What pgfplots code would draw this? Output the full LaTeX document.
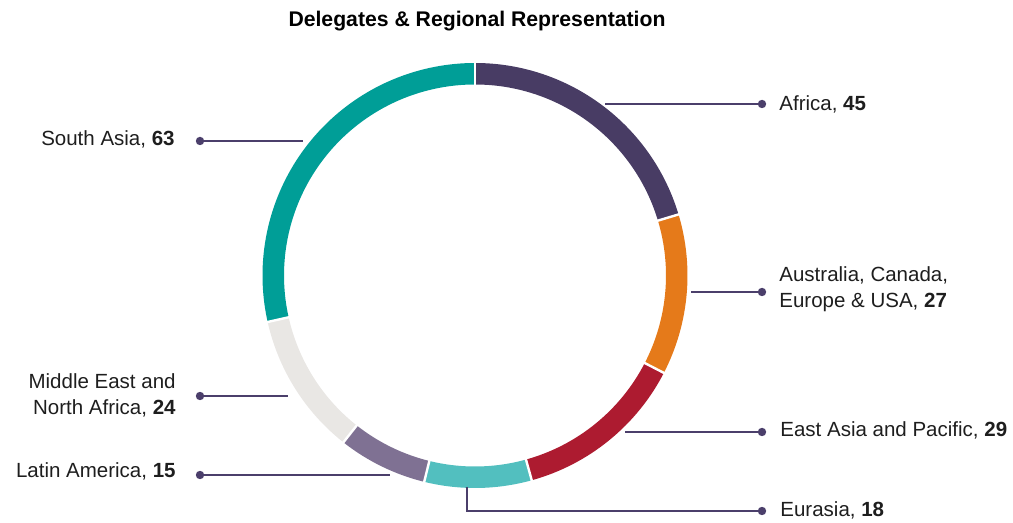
\documentclass[border=0pt]{standalone}
\usepackage{pgfplots}
\pgfplotsset{compat=1.18}
\usepackage{fontspec}
\setmainfont{Liberation Sans}
\definecolor{cAfr}{HTML}{483C64}
\definecolor{cAus}{HTML}{E57A1A}
\definecolor{cEas}{HTML}{AD1B30}
\definecolor{cEur}{HTML}{52BFBF}
\definecolor{cLat}{HTML}{7F7193}
\definecolor{cMid}{HTML}{E9E7E4}
\definecolor{cSou}{HTML}{009E97}
\definecolor{leadc}{HTML}{4B3F6B}
\definecolor{textc}{HTML}{1E1E1E}
% data (delegates per region)
\pgfmathsetmacro\vA{45}% Africa
\pgfmathsetmacro\vB{27}% Australia, Canada, Europe & USA
\pgfmathsetmacro\vC{29}% East Asia and Pacific
\pgfmathsetmacro\vD{18}% Eurasia
\pgfmathsetmacro\vE{15}% Latin America
\pgfmathsetmacro\vF{24}% Middle East and North Africa
\pgfmathsetmacro\vG{63}% South Asia
\pgfmathsetmacro\tot{\vA+\vB+\vC+\vD+\vE+\vF+\vG}
\pgfmathsetmacro\aA{90}
\pgfmathsetmacro\aB{\aA-\vA/\tot*360}
\pgfmathsetmacro\aC{\aB-\vB/\tot*360}
\pgfmathsetmacro\aD{\aC-\vC/\tot*360}
\pgfmathsetmacro\aE{\aD-\vD/\tot*360}
\pgfmathsetmacro\aF{\aE-\vE/\tot*360}
\pgfmathsetmacro\aG{\aF-\vF/\tot*360}
\pgfmathsetmacro\aH{\aG-\vG/\tot*360}
\def\Ro{106.25pt}
\def\Ri{95.5pt}
\newcommand\seg[3]{\fill[#1] ([shift={(#2:\Ro)}]C) arc[start angle=#2,end angle=#3,radius=\Ro] -- ([shift={(#3:\Ri)}]C) arc[start angle=#3,end angle=#2,radius=\Ri] -- cycle;}
\newcommand\gap[1]{\draw[white,line width=1.2pt] ([shift={(#1:94pt)}]C) -- ([shift={(#1:108pt)}]C);}
\tikzset{
  lead/.style={leadc,line width=0.65pt,mark=*,mark size=1.75pt,mark options={fill=leadc,draw=leadc}},
  lab/.style={font=\fontsize{10.25}{13}\selectfont,text=textc,inner sep=0pt}}
\begin{document}
\begin{tikzpicture}
\begin{axis}[width=506.5pt,height=261.5pt,scale only axis,
  xmin=0,xmax=1013,ymin=0,ymax=523,y dir=reverse,
  axis lines=none,ticks=none,clip=false]
\coordinate (BL) at (rel axis cs:0,0);
\coordinate (TR) at (rel axis cs:1,1);
\coordinate (C) at (axis cs:475,275.5);
\seg{cAfr}{\aA}{\aB}
\seg{cAus}{\aB}{\aC}
\seg{cEas}{\aC}{\aD}
\seg{cEur}{\aD}{\aE}
\seg{cLat}{\aE}{\aF}
\seg{cMid}{\aF}{\aG}
\seg{cSou}{\aG}{\aH}
\gap{\aA}\gap{\aB}\gap{\aC}\gap{\aD}\gap{\aE}\gap{\aF}\gap{\aG}
\addplot[lead,mark indices={2}] coordinates {(605,104) (762,104)};
\addplot[lead,mark indices={2}] coordinates {(691,292) (762,292)};
\addplot[lead,mark indices={2}] coordinates {(625,432) (762,432)};
\addplot[lead,mark indices={3}] coordinates {(467,487) (467,511) (762,511)};
\addplot[lead,mark indices={1}] coordinates {(200,475) (390,475)};
\addplot[lead,mark indices={1}] coordinates {(200,396) (288,396)};
\addplot[lead,mark indices={1}] coordinates {(200,141) (303,141)};
\node[lab,anchor=base,font=\fontsize{10.6}{13}\selectfont\bfseries,text=black] at (axis cs:477,27) {Delegates \& Regional Representation};
\node[lab,anchor=base west] at (axis cs:779,111) {Africa, \textbf{45}};
\node[lab,anchor=base west] at (axis cs:779,282) {Australia, Canada,};
\node[lab,anchor=base west] at (axis cs:779,308) {Europe \& USA, \textbf{27}};
\node[lab,anchor=base west] at (axis cs:780,437) {East Asia and Pacific, \textbf{29}};
\node[lab,anchor=base west] at (axis cs:780,517) {Eurasia, \textbf{18}};
\node[lab,anchor=base east] at (axis cs:176,389) {Middle East and};
\node[lab,anchor=base east] at (axis cs:176,415) {North Africa, \textbf{24}};
\node[lab,anchor=base east] at (axis cs:176,478) {Latin America, \textbf{15}};
\node[lab,anchor=base east] at (axis cs:175,146) {South Asia, \textbf{63}};
\end{axis}
\pgfresetboundingbox
\path (BL) rectangle (TR);
\end{tikzpicture}
\end{document}
